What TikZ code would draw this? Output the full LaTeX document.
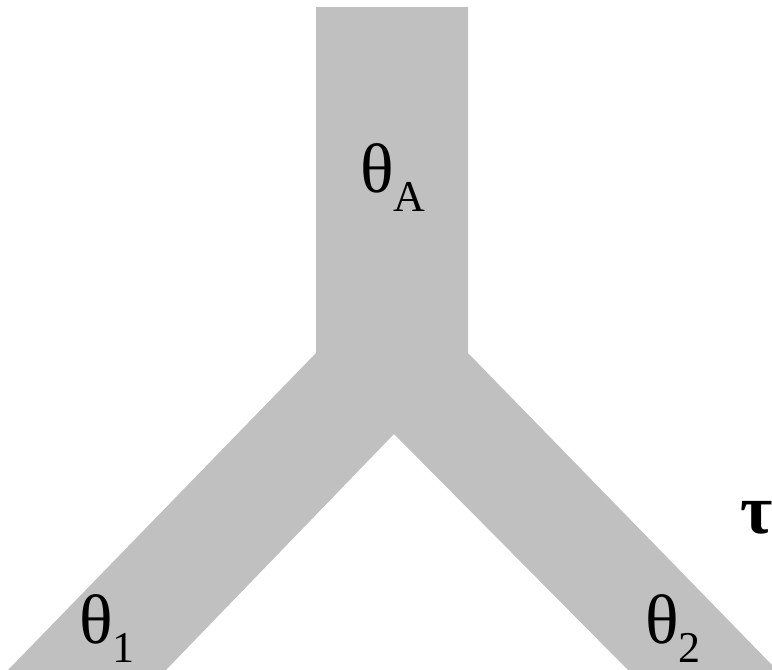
\documentclass[tikz,border=0pt]{standalone}
\usepackage{fontspec}
\setmainfont{Liberation Serif}
\usetikzlibrary{positioning}
\definecolor{branchgrey}{RGB}{192,192,192}
\newcommand{\poplabel}[2]{#1\raisebox{-0.28em}{\fontsize{44}{44}\selectfont #2}}

\begin{document}
\begin{tikzpicture}[x=1pt,y=-1pt,
    lbl/.style={font=\fontsize{70}{70}\selectfont, inner sep=0pt, anchor=base west}]
  % frame
  \useasboundingbox (0,0) rectangle (772,670);

  % tree shape
  \fill[branchgrey] (316,7) -- (468,7) -- (468,353) -- (772,665) -- (772,670)
    -- (628,670) -- (394,434) -- (166,670) -- (8,670) -- (316,353) -- cycle;

  % labels
  \node[lbl] (thA) at (360,192) {\poplabel{θ}{A}};
  \node[lbl] (th1) at (79,643) {\poplabel{θ}{1}};
  \node[lbl] (th2) at (645,643) {\poplabel{θ}{2}};
  \node[lbl, font=\fontsize{70}{70}\selectfont\bfseries] (tau) at (740,533) {τ};
\end{tikzpicture}
\end{document}
